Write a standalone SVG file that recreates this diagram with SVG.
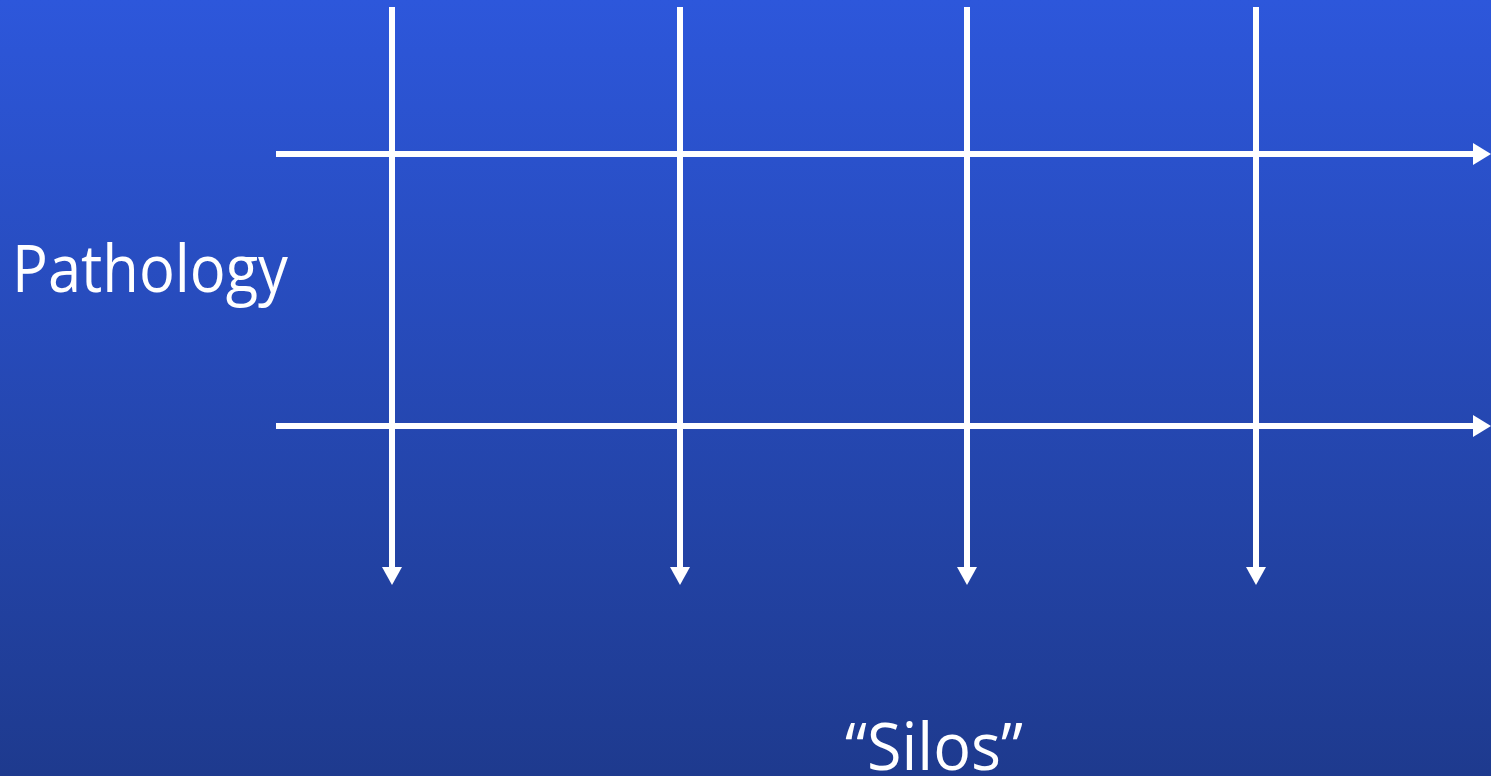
<svg xmlns="http://www.w3.org/2000/svg" width="1491" height="776" viewBox="0 0 1491 776">
<defs>
<linearGradient id="bg" x1="0" y1="0" x2="0" y2="1">
<stop offset="0" stop-color="#2d57db"/>
<stop offset="1" stop-color="#1e3a8e"/>
</linearGradient>
<marker id="ah" markerWidth="18" markerHeight="20" refX="0" refY="10" orient="auto" markerUnits="userSpaceOnUse">
<path d="M0,0 L18,10 L0,20 Z" fill="#fff"/>
</marker>
<marker id="ahh" markerWidth="18" markerHeight="22" refX="0" refY="11" orient="auto" markerUnits="userSpaceOnUse">
<path d="M0,0 L18,11 L0,22 Z" fill="#fff"/>
</marker>
</defs>
<style>
.ln{stroke:#fff;stroke-width:6;fill:none}
.t{fill:#fff;font-family:"Open Sans","Noto Sans","Liberation Sans",sans-serif;font-size:66px}
</style>
<rect width="1491" height="776" fill="url(#bg)"/>
<g id="connectors">
<line class="ln" x1="392" y1="7" x2="392" y2="567" marker-end="url(#ah)"/>
<line class="ln" x1="680" y1="7" x2="680" y2="567" marker-end="url(#ah)"/>
<line class="ln" x1="967" y1="7" x2="967" y2="567" marker-end="url(#ah)"/>
<line class="ln" x1="1256" y1="7" x2="1256" y2="567" marker-end="url(#ah)"/>
<line class="ln" x1="276" y1="154" x2="1473" y2="154" marker-end="url(#ahh)"/>
<line class="ln" x1="276" y1="426" x2="1473" y2="426" marker-end="url(#ahh)"/>
</g>
<g id="pathology"><text class="t" x="12" y="292" textLength="276" lengthAdjust="spacingAndGlyphs">Pathology</text></g>
<g id="silos"><text class="t" x="845" y="770" textLength="178" lengthAdjust="spacingAndGlyphs">“Silos”</text></g>
</svg>
